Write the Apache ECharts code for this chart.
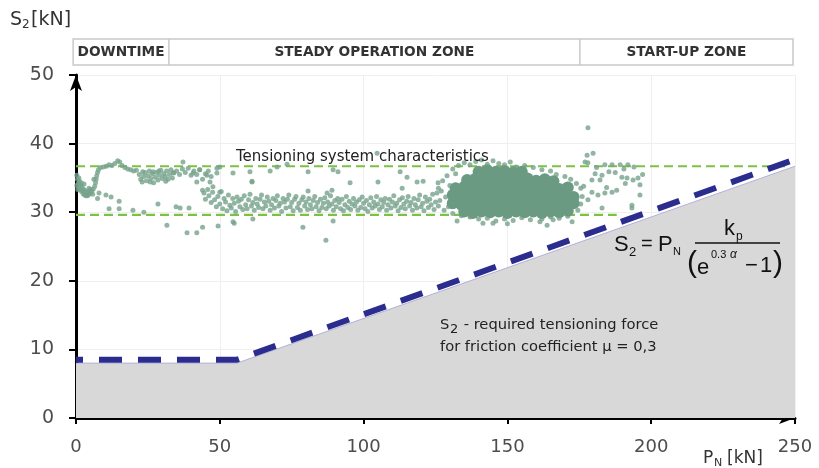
<!DOCTYPE html>
<html><head><meta charset="utf-8">
<script src="https://cdn.jsdelivr.net/npm/echarts@6/dist/echarts.min.js"></script>
<style>html,body{margin:0;padding:0;background:#fff}#c{width:819px;height:468px}</style>
</head><body><div id="c"></div>
<script>
// ---- data ----
const xTicks = [0, 50, 100, 150, 200, 250];
const yTicks = [0, 10, 20, 30, 40, 50];
const zoneNames = ['DOWNTIME', 'STEADY OPERATION ZONE', 'START-UP ZONE'];
const zoneEdges = [-1, 32.3, 175.2, 249.3];
const requiredX = [0, 56, 250];
const requiredForce = [8.5, 8.5, 37.7];
const areaX = [0, 56, 250];
const areaTop = [8, 8, 36.7];
const upperLimitX = [0, 248];
const upperLimit = 36.7;
const lowerLimitX = [0, 188];
const lowerLimit = 29.6;

// measured points (individual dots)
const measuredSparse = [
  // downtime loop
  [0.3,35.4],[0.5,34.8],[0.8,34.2],[1,33.6],[1.5,33.2],[1.2,34.5],[2,33],[2.5,32.7],[3,32.5],[3.5,32.4],[4,32.4],[4.5,32.6],[5,32.8],[5.5,33.1],[6,33.4],[6.5,33.8],
  [3,33.2],[2,33.8],[4,33],[5,33.3],[1.8,34.3],[0.3,33.9],[6.8,34.3],[7,34.8],[7.2,35.3],[7.5,35.8],[7.8,36.2],[8.5,36.5],[9.5,36.6],[10.5,36.7],[11.5,36.9],
  [12.5,36.8],[13.5,37.1],[14.5,37.5],[15.2,37.3],[16,36.8],[17,36.5],[18,36.3],[19,36.2],[20,36],[21,36.1],
  [1,35],[1.5,34],[2.5,33.4],[3.5,32.9],[4.5,33.5],[0.6,33.3],[2.8,34.1],[5.8,32.6],[6.2,34.8],
  // downtime lower scatter
  [8,32.8],[10.4,32.5],[12.2,32.2],[15,31.6],[7.5,32],[11.5,30.5],[15,30.5],[19.8,30.3],[23.6,30],[28.5,31.2],[34.8,30.8],[36.2,30.6],[39.3,30.6],
  [31.6,28.1],[38.6,27],[42,27],[44,27.8],[49.4,28],[55,28.4],[61.2,34.5],[37.2,37.3],
  // cluster 22-50
  [22,35.5],[22.5,34.8],[23,34.4],[23.5,35.2],[24,35.8],[24.5,34.6],[25,35.3],[25.5,36],[26,34.9],[26.5,35.6],[27,34.3],[27.5,35.1],[28,35.8],[28.5,34.7],
  [29,35.4],[29.5,36.1],[30,34.9],[30.5,35.6],[31,35.2],[31.5,36],[32,34.8],[32.5,35.5],[33,36.2],[33.5,35],[34,35.7],[35,36],[36,35.5],[37,36.3],[38,35.8],
  [39,36.4],[40,35.4],[41,36],[42,35.5],[43,36.2],[44,34.8],[45,35.6],[46,36],[47,35.2],[40.7,35.7],[43,36.2],[45.5,35.4],[49,35.7],[50,36.6],
  [42,34.4],[46.6,34.4],[44,33.2],[47.6,33.7],[50,32.9],[23.2,35.9],[25.8,34.4],[28.8,36],[31.2,34.5],[33.8,35.8],[26.8,35.9],
  // steady band
  [44.5,32.8],[45,31.9],[45.8,33.3],[46.2,32.4],[47,31.4],[47.5,32.9],[48.2,31.8],[48.8,30.8],[49.3,32.3],[50,31.2],[50.5,33],[51,30.5],[51.5,32],[52,31.5],
  [52.5,30.2],[53,32.5],[53.5,31],[54,30.6],[54.5,32],[55,31.3],[55.5,30.1],[56,32.2],[56.5,31.6],[57,30.8],[57.5,31.9],[58,30.4],[58.5,32.4],[59,31.1],
  [59.5,30.5],[60,31.8],[60.5,32.6],[61,30.9],[61.5,31.4],[62,30.3],[62.5,32],[63,31.2],[63.5,30.7],[64,31.9],[64.5,32.5],[65,30.5],[65.5,31.5],[66,30.9],
  [66.5,32.2],[67,31.6],[67.5,30.3],[68,31.1],[68.5,32],[69,30.6],[69.5,31.7],[70,32.4],[70.5,30.9],[71,31.3],[71.5,30.1],[72,32],[72.5,31.5],[73,30.6],
  [73.5,31.9],[74,32.5],[74.5,30.8],[75,31.4],[75.5,30.2],[76,31.9],[76.5,32.3],[77,30.7],[77.5,31.3],[78,30.3],[78.5,31.8],[79,32.2],[79.5,30.9],[80,31.5],
  [80.5,30.4],[81,32],[81.5,31.1],[82,30.5],[82.5,31.7],[83,32.3],[83.5,30.8],[84,31.4],[84.5,30.2],[85,31.9],[85.5,30.7],[86,31.3],[86.5,32.1],[87,30.5],
  [87.5,31.5],[88,30.9],[88.5,32.4],[89,31.2],[89.5,30.3],[90,31.7],[90.5,30.8],[91,32],[91.5,31.4],[92,30.5],[92.5,31.9],[93,30.2],[93.5,31.1],[94,32.3],
  [94.5,30.7],[95,31.6],[95.5,30.4],[96,31.2],[96.5,32],[97,30.9],[97.5,31.5],[98,30.3],[98.5,31.8],[99,30.7],[99.5,32.2],[100,31.3],[100.5,30.5],[101,31.7],
  [101.5,30.1],[102,31.1],[102.5,32.1],[103,30.6],[103.5,31.5],[104,30.9],[104.5,32.3],[105,31.2],[105.5,30.4],[106,31.8],[106.5,30.8],[107,31.4],[107.5,32],
  [108,30.3],[108.5,31.1],[109,31.9],[109.5,30.6],[110,31.5],[110.5,32.4],[111,30.9],[111.5,31.3],[112,30.2],[112.5,31.8],[113,30.7],[113.5,32.1],[114,31.2],
  [114.5,30.5],[115,31.6],[115.5,32.3],[116,30.9],[116.5,31.4],[117,30.3],[117.5,32],[118,31.1],[118.5,30.6],[119,31.8],[119.5,32.5],[120,30.8],[120.5,31.3],
  [121,30.2],[121.5,32.2],[122,31.6],[122.5,30.7],[123,31.9],[123.5,31.1],[124,32.6],[124.5,30.4],[125,31.5],[125.5,32.8],[126,30.9],[126.5,31.7],[127,33.1],
  // scattered above / below band
  [54.6,35.7],[61.2,34.4],[67.5,36],[80.7,33.1],[87.3,32.8],[89,33.2],[95.3,34.3],[91.1,35.9],[73.4,37],[54.6,28.6],[61.5,29],[78.9,27.8],[86.9,25.9],[89.4,28.7],
  [105,34.4],[115.1,35.1],[113.4,33.5],[118.6,34.4],[120.7,34.5],[125.9,34.3],[104.7,38.6],[49,36.4],[60.5,35.9],[69.9,36.6],[80.7,35.9],[89.4,36.2],[112.7,35.9],
  // edges of dense core
  [126,33.5],[127.5,34.6],[128.5,32.2],[129,35.3],[129.5,30.8],[130,33.9],[131,36.3],[132,35.6],[133,36.8],[135,37.2],[137,36.9],[139,37.4],[141,37.6],[143,37],
  [145,37.5],[147,37.1],[149,36.9],[151,37.3],[153,36.6],[156,36.8],[159,36.5],[162,36.2],[165,36],[167,35.5],[170,35.2],[172,34.8],[174,34.2],[175.5,33.5],
  [176,32.3],[175.5,31.2],[174.5,30.3],[171,29.4],[168,29.1],[165,29.3],[162,29],[158,28.9],[155,29.2],[152,28.8],[149,29],[146,28.7],[143,29.1],[140,29],
  [137,29.3],[134,29.5],[131,29.8],[128,30.3],[132.5,28.7],[150,28.3],[145,28.4],[141.5,28.4],
  // start-up zone
  [178,42.3],[177.7,38.3],[177,37.3],[179.8,38.6],[178,37.2],[183.9,36.9],[186.4,36.9],[189.2,36.9],[191.9,36.9],[180.5,35.6],[182.9,35.4],[185.3,35.9],
  [179.4,34.7],[182.2,34.7],[189.8,35.1],[191.6,35],[193.7,34.7],[195.4,35],[196.1,34],[196.1,32.5],[179.4,32.9],[181.5,32.5],[183.9,32.8],[186.4,32.9],
  [178,31.8],[182.9,30.6],[193.3,31],[193.3,30.6],[161.3,28.6],[163.8,28.1],[165.9,28.9],[172.5,28.6],[181,36.5],[187.5,35.8],[190.5,36.3],[194,36.6],
  [197,35.5],[176.5,33.8],[184.5,33.6],[188,33.2],[191,34.2]
];

// dense core of measurements (overlapping dots)
const measuredDense = [
  [135,30.1],[138,29.9],[141,30.1],[144,30],[147,30.1],[150,29.9],[153,30.1],[156,30],[159,30.1],[162,29.9],[165,30.1],[168,30],[171,30.2],
  [131,31.3],[134,31.1],[137,31.2],[140,31.3],[143,31.1],[146,31.2],[149,31.3],[152,31.1],[155,31.2],[158,31.3],[161,31.1],[164,31.2],[167,31.3],[170,31.1],[173,31.3],
  [131,32.5],[134,32.3],[137,32.4],[140,32.5],[143,32.3],[146,32.4],[149,32.5],[152,32.3],[155,32.4],[158,32.5],[161,32.3],[164,32.4],[167,32.5],[170,32.3],[173,32.2],
  [132,33.5],[135,33.7],[138,33.6],[141,33.5],[144,33.7],[147,33.6],[150,33.5],[153,33.7],[156,33.6],[159,33.5],[162,33.7],[165,33.5],[168,33.4],[171,33.6],
  [136,34.7],[139,34.9],[142,34.8],[145,34.7],[148,34.9],[151,34.8],[154,34.7],[157,34.9],[160,34.6],[163,34.8],[166,34.5],
  [140,35.9],[143,36.1],[146,35.9],[149,36],[152,35.8],[155,35.9],
  [136.5,30.7],[142.5,30.6],[148.5,30.7],[154.5,30.6],[160.5,30.7],[166.5,30.6],[139.5,31.8],[145.5,31.9],[151.5,31.8],[157.5,31.9],[163.5,31.8],[169.5,31.9],
  [136.5,33],[142.5,33.1],[148.5,32.9],[154.5,33],[160.5,33.1],[166.5,33],[137.5,34.2],[143.5,34.1],[149.5,34.3],[155.5,34.2],[161.5,34.1],[141.5,35.4],[147.5,35.3],[153.5,35.4]
];

// ---- chart ----
const FONT = 'DejaVu Sans';
const chart = echarts.init(document.getElementById('c'), null, {renderer: 'canvas'});
const option = {
  animation: false,
  backgroundColor: '#ffffff',
  grid: {left: 76, right: 24, top: 75, bottom: 50, containLabel: false, outerBoundsMode: 'none'},
  xAxis: {
    type: 'value', min: xTicks[0], max: xTicks[xTicks.length - 1], interval: xTicks[1] - xTicks[0],
    axisLine: {show: true, onZero: false, lineStyle: {color: '#000', width: 3}, symbol: ['none', 'arrow'], symbolSize: [9, 16]},
    axisTick: {show: true, length: 6, lineStyle: {color: '#000', width: 2}},
    axisLabel: {fontSize: 18, color: '#4d4d4d', margin: 20, fontFamily: FONT},
    splitLine: {show: true, lineStyle: {color: '#efefef', width: 1}}
  },
  yAxis: {
    type: 'value', min: yTicks[0], max: yTicks[yTicks.length - 1], interval: yTicks[1] - yTicks[0],
    axisLine: {show: true, onZero: false, lineStyle: {color: '#000', width: 3}, symbol: ['none', 'arrow'], symbolSize: [9, 16]},
    axisTick: {show: true, length: 7, lineStyle: {color: '#000', width: 2}},
    axisLabel: {fontSize: 19, color: '#4d4d4d', margin: 22, fontFamily: FONT},
    splitLine: {show: true, lineStyle: {color: '#efefef', width: 1}}
  },
  series: [
    {
      name: 'area', type: 'line', z: 1, symbol: 'none', silent: true,
      data: areaX.map((x, i) => [x, areaTop[i]]),
      lineStyle: {color: '#b5b0da', width: 1},
      areaStyle: {color: '#d8d8d8', opacity: 1}
    },
    {
      name: 'upper', type: 'line', z: 3, symbol: 'none',
      data: upperLimitX.map(x => [x, upperLimit]),
      lineStyle: {color: '#7cc242', width: 2.2, type: [9, 5]}
    },
    {
      name: 'lower', type: 'line', z: 3, symbol: 'none',
      data: lowerLimitX.map(x => [x, lowerLimit]),
      lineStyle: {color: '#7cc242', width: 2.2, type: [9, 5]}
    },
    {
      name: 'measured', type: 'scatter', z: 4, symbolSize: 5,
      data: measuredSparse,
      itemStyle: {color: '#76a28b', opacity: 0.8}
    },
    {
      name: 'dense', type: 'scatter', z: 4, symbolSize: 12,
      data: measuredDense,
      itemStyle: {color: '#6b9a82', opacity: 1}
    },
    {
      name: 'required', type: 'line', z: 5, symbol: 'none',
      data: requiredX.map((x, i) => [x, requiredForce[i]]),
      lineStyle: {color: '#2b2d8e', width: 6, type: [23, 16], dashOffset: 16}
    }
  ]
};
chart.setOption(option);

const px = v => chart.convertToPixel({xAxisIndex: 0}, v);
const hTop = 39, hBot = 65;
const g = [];
g.push({type: 'rect', z: 10, shape: {x: px(zoneEdges[0]), y: hTop, width: px(zoneEdges[3]) - px(zoneEdges[0]), height: hBot - hTop},
  style: {fill: '#fff', stroke: '#c9c9c9', lineWidth: 1.5}});
for (let i = 1; i < zoneEdges.length - 1; i++) {
  g.push({type: 'line', z: 11, shape: {x1: px(zoneEdges[i]), y1: hTop, x2: px(zoneEdges[i]), y2: hBot}, style: {stroke: '#c9c9c9', lineWidth: 1.5}});
}
zoneNames.forEach((n, i) => {
  g.push({type: 'text', z: 12, x: (px(zoneEdges[i]) + px(zoneEdges[i + 1])) / 2, y: (hTop + hBot) / 2,
    style: {text: n, fontFamily: FONT, fontSize: 13.7, fontWeight: 'bold', fill: '#333', align: 'center', verticalAlign: 'middle'}});
});
// axis titles
const T = (text, x, y, size, extra) => Object.assign({type: 'text', z: 20, x: x, y: y,
  style: Object.assign({text: text, fontFamily: FONT, fontSize: size, fill: '#333', verticalAlign: 'middle'}, extra || {})});
g.push(T('S', 10, 20, 19));
g.push(T('2', 22, 25, 12));
g.push(T('[kN]', 31, 20, 19));
g.push(T('P', 703, 459, 17));
g.push(T('N', 714, 463, 11));
g.push(T('[kN]', 727, 459, 17));
// annotation texts
g.push(T('Tensioning system characteristics', 236, 157, 15, {fill: '#222'}));
g.push(T('S', 440, 325, 14.7, {fill: '#222'}));
g.push(T('2', 450, 330, 13, {fill: '#222'}));
g.push(T(' - required tensioning force', 459, 325, 14.7, {fill: '#222'}));
g.push(T('for friction coefficient \u03bc = 0,3', 440, 347, 14.7, {fill: '#222'}));
// formula
const AF = 'Liberation Sans';
const F = (text, x, y, size, extra) => T(text, x, y, size, Object.assign({fontFamily: AF, fill: '#111'}, extra || {}));
g.push(F('S', 614, 245, 22));
g.push(F('2', 629, 252, 13));
g.push(F('=', 641, 244, 20));
g.push(F('P', 658, 245, 22));
g.push(F('N', 673, 252, 11));
g.push({type: 'line', z: 20, shape: {x1: 695, y1: 243, x2: 780, y2: 243}, style: {stroke: '#111', lineWidth: 1.5}});
g.push(F('k', 724, 229, 22));
g.push(F('p', 736, 237, 12));
g.push(F('(', 687, 264, 30));
g.push(F('e', 697, 268, 22));
g.push(F('0.3', 711, 255, 11));
g.push(F('\u03b1', 730, 255, 12, {fontStyle: 'italic'}));
g.push(F('\u2212', 745, 266, 22));
g.push(F('1', 760, 266, 22));
g.push(F(')', 773, 264, 30));
chart.setOption({graphic: g});
</script>
</body></html>
